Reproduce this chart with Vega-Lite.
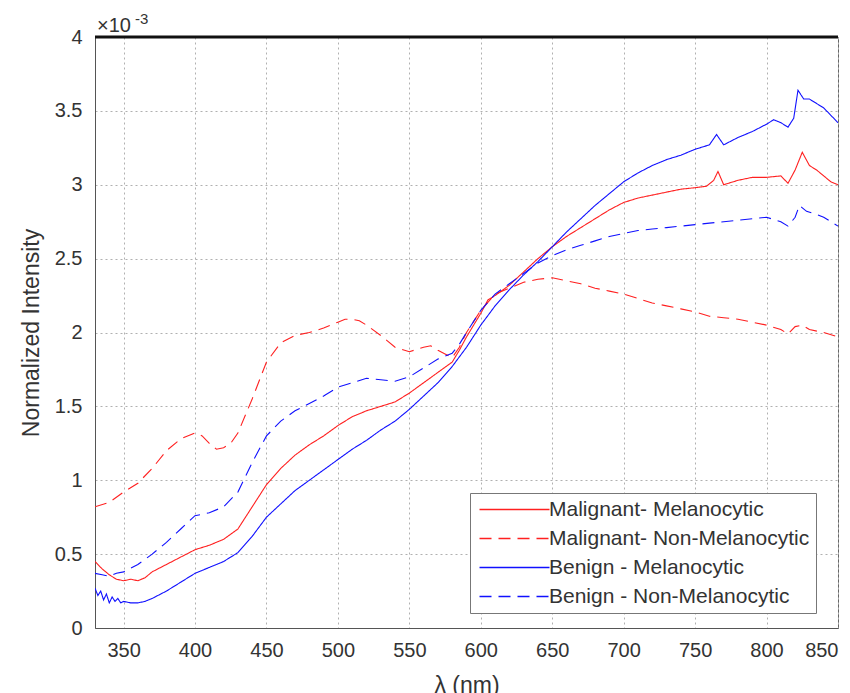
{
  "$schema": "https://vega.github.io/schema/vega-lite/v6.json",
  "width": 743,
  "height": 591,
  "autosize": {"type": "none"},
  "padding": {"left": 95, "top": 37, "right": 12, "bottom": 65},
  "background": "white",
  "config": {
    "font": "Liberation Sans",
    "view": {"stroke": "#666", "strokeWidth": 1},
    "axis": {"labelFont": "Liberation Sans", "titleFont": "Liberation Sans", "labelColor": "#333", "titleColor": "#333", "labelFontSize": 20, "titleFontSize": 23, "titleFontWeight": "normal", "gridDash": [2, 3], "gridColor": "#b0b0b0", "gridWidth": 1, "domainColor": "#555", "ticks": false},
    "legend": {"orient": "none", "legendX": 375, "legendY": 456, "direction": "vertical", "symbolType": "M-5,0H5", "symbolSize": 196, "symbolStrokeWidth": 1.3, "symbolOffset": 28, "labelFontSize": 21, "labelFont": "Liberation Sans", "labelColor": "#333", "labelOffset": 24, "rowPadding": 7, "padding": 6, "strokeColor": "#777", "fillColor": "white", "labelLimit": 400}
  },
  "layer": [
    {
      "data": {"values": [
        {"s":"MM","w":330,"v":0.45},{"s":"MM","w":335,"v":0.40},{"s":"MM","w":340,"v":0.36},{"s":"MM","w":345,"v":0.33},{"s":"MM","w":350,"v":0.32},{"s":"MM","w":355,"v":0.33},{"s":"MM","w":360,"v":0.32},{"s":"MM","w":365,"v":0.34},{"s":"MM","w":370,"v":0.38},{"s":"MM","w":380,"v":0.43},{"s":"MM","w":390,"v":0.48},{"s":"MM","w":400,"v":0.53},{"s":"MM","w":410,"v":0.56},{"s":"MM","w":420,"v":0.60},{"s":"MM","w":430,"v":0.67},{"s":"MM","w":440,"v":0.82},{"s":"MM","w":450,"v":0.97},{"s":"MM","w":460,"v":1.08},{"s":"MM","w":470,"v":1.17},{"s":"MM","w":480,"v":1.24},{"s":"MM","w":490,"v":1.30},{"s":"MM","w":500,"v":1.37},{"s":"MM","w":510,"v":1.43},{"s":"MM","w":520,"v":1.47},{"s":"MM","w":530,"v":1.50},{"s":"MM","w":540,"v":1.53},{"s":"MM","w":550,"v":1.59},{"s":"MM","w":560,"v":1.66},{"s":"MM","w":570,"v":1.73},{"s":"MM","w":580,"v":1.80},{"s":"MM","w":585,"v":1.88},{"s":"MM","w":590,"v":1.97},{"s":"MM","w":595,"v":2.05},{"s":"MM","w":600,"v":2.13},{"s":"MM","w":605,"v":2.22},{"s":"MM","w":610,"v":2.25},{"s":"MM","w":620,"v":2.32},{"s":"MM","w":630,"v":2.41},{"s":"MM","w":640,"v":2.50},{"s":"MM","w":650,"v":2.58},{"s":"MM","w":660,"v":2.65},{"s":"MM","w":670,"v":2.71},{"s":"MM","w":680,"v":2.77},{"s":"MM","w":690,"v":2.83},{"s":"MM","w":700,"v":2.88},{"s":"MM","w":710,"v":2.91},{"s":"MM","w":720,"v":2.93},{"s":"MM","w":730,"v":2.95},{"s":"MM","w":740,"v":2.97},{"s":"MM","w":750,"v":2.98},{"s":"MM","w":758,"v":2.99},{"s":"MM","w":763,"v":3.03},{"s":"MM","w":766,"v":3.09},{"s":"MM","w":770,"v":3.00},{"s":"MM","w":780,"v":3.03},{"s":"MM","w":790,"v":3.05},{"s":"MM","w":800,"v":3.05},{"s":"MM","w":810,"v":3.06},{"s":"MM","w":815,"v":3.01},{"s":"MM","w":820,"v":3.10},{"s":"MM","w":825,"v":3.22},{"s":"MM","w":830,"v":3.13},{"s":"MM","w":835,"v":3.10},{"s":"MM","w":840,"v":3.06},{"s":"MM","w":845,"v":3.02},{"s":"MM","w":850,"v":3.00},
        {"s":"MN","w":330,"v":0.82},{"s":"MN","w":340,"v":0.85},{"s":"MN","w":350,"v":0.92},{"s":"MN","w":360,"v":0.98},{"s":"MN","w":370,"v":1.08},{"s":"MN","w":380,"v":1.20},{"s":"MN","w":390,"v":1.28},{"s":"MN","w":400,"v":1.32},{"s":"MN","w":405,"v":1.30},{"s":"MN","w":410,"v":1.25},{"s":"MN","w":415,"v":1.21},{"s":"MN","w":420,"v":1.22},{"s":"MN","w":425,"v":1.25},{"s":"MN","w":430,"v":1.32},{"s":"MN","w":440,"v":1.55},{"s":"MN","w":450,"v":1.80},{"s":"MN","w":460,"v":1.93},{"s":"MN","w":470,"v":1.98},{"s":"MN","w":480,"v":2.00},{"s":"MN","w":490,"v":2.03},{"s":"MN","w":500,"v":2.07},{"s":"MN","w":505,"v":2.09},{"s":"MN","w":510,"v":2.09},{"s":"MN","w":515,"v":2.08},{"s":"MN","w":520,"v":2.05},{"s":"MN","w":530,"v":1.98},{"s":"MN","w":540,"v":1.90},{"s":"MN","w":550,"v":1.87},{"s":"MN","w":560,"v":1.90},{"s":"MN","w":565,"v":1.91},{"s":"MN","w":570,"v":1.88},{"s":"MN","w":580,"v":1.83},{"s":"MN","w":585,"v":1.90},{"s":"MN","w":590,"v":2.00},{"s":"MN","w":600,"v":2.15},{"s":"MN","w":610,"v":2.26},{"s":"MN","w":620,"v":2.30},{"s":"MN","w":630,"v":2.34},{"s":"MN","w":640,"v":2.36},{"s":"MN","w":650,"v":2.37},{"s":"MN","w":660,"v":2.35},{"s":"MN","w":670,"v":2.33},{"s":"MN","w":680,"v":2.30},{"s":"MN","w":690,"v":2.28},{"s":"MN","w":700,"v":2.26},{"s":"MN","w":710,"v":2.23},{"s":"MN","w":720,"v":2.20},{"s":"MN","w":730,"v":2.18},{"s":"MN","w":740,"v":2.16},{"s":"MN","w":750,"v":2.14},{"s":"MN","w":760,"v":2.11},{"s":"MN","w":770,"v":2.10},{"s":"MN","w":780,"v":2.09},{"s":"MN","w":790,"v":2.07},{"s":"MN","w":800,"v":2.05},{"s":"MN","w":810,"v":2.02},{"s":"MN","w":815,"v":1.99},{"s":"MN","w":820,"v":2.04},{"s":"MN","w":825,"v":2.05},{"s":"MN","w":830,"v":2.02},{"s":"MN","w":840,"v":2.00},{"s":"MN","w":850,"v":1.97},
        {"s":"BM","w":330,"v":0.27},{"s":"BM","w":332,"v":0.22},{"s":"BM","w":334,"v":0.25},{"s":"BM","w":336,"v":0.19},{"s":"BM","w":338,"v":0.23},{"s":"BM","w":340,"v":0.17},{"s":"BM","w":342,"v":0.21},{"s":"BM","w":344,"v":0.18},{"s":"BM","w":346,"v":0.20},{"s":"BM","w":348,"v":0.17},{"s":"BM","w":350,"v":0.18},{"s":"BM","w":355,"v":0.17},{"s":"BM","w":360,"v":0.17},{"s":"BM","w":365,"v":0.18},{"s":"BM","w":370,"v":0.20},{"s":"BM","w":380,"v":0.25},{"s":"BM","w":390,"v":0.31},{"s":"BM","w":400,"v":0.37},{"s":"BM","w":410,"v":0.41},{"s":"BM","w":420,"v":0.45},{"s":"BM","w":430,"v":0.51},{"s":"BM","w":440,"v":0.62},{"s":"BM","w":450,"v":0.75},{"s":"BM","w":460,"v":0.84},{"s":"BM","w":470,"v":0.93},{"s":"BM","w":480,"v":1.00},{"s":"BM","w":490,"v":1.07},{"s":"BM","w":500,"v":1.14},{"s":"BM","w":510,"v":1.21},{"s":"BM","w":520,"v":1.27},{"s":"BM","w":530,"v":1.34},{"s":"BM","w":540,"v":1.40},{"s":"BM","w":550,"v":1.48},{"s":"BM","w":560,"v":1.57},{"s":"BM","w":570,"v":1.66},{"s":"BM","w":580,"v":1.77},{"s":"BM","w":590,"v":1.90},{"s":"BM","w":600,"v":2.05},{"s":"BM","w":610,"v":2.18},{"s":"BM","w":620,"v":2.29},{"s":"BM","w":630,"v":2.39},{"s":"BM","w":640,"v":2.48},{"s":"BM","w":650,"v":2.58},{"s":"BM","w":660,"v":2.68},{"s":"BM","w":670,"v":2.77},{"s":"BM","w":680,"v":2.86},{"s":"BM","w":690,"v":2.94},{"s":"BM","w":700,"v":3.02},{"s":"BM","w":710,"v":3.08},{"s":"BM","w":720,"v":3.13},{"s":"BM","w":730,"v":3.17},{"s":"BM","w":740,"v":3.20},{"s":"BM","w":750,"v":3.24},{"s":"BM","w":760,"v":3.27},{"s":"BM","w":765,"v":3.34},{"s":"BM","w":770,"v":3.27},{"s":"BM","w":780,"v":3.32},{"s":"BM","w":790,"v":3.36},{"s":"BM","w":800,"v":3.41},{"s":"BM","w":805,"v":3.44},{"s":"BM","w":810,"v":3.42},{"s":"BM","w":815,"v":3.39},{"s":"BM","w":819,"v":3.45},{"s":"BM","w":822,"v":3.64},{"s":"BM","w":826,"v":3.58},{"s":"BM","w":830,"v":3.58},{"s":"BM","w":835,"v":3.55},{"s":"BM","w":840,"v":3.52},{"s":"BM","w":845,"v":3.47},{"s":"BM","w":850,"v":3.42},
        {"s":"BN","w":330,"v":0.37},{"s":"BN","w":335,"v":0.36},{"s":"BN","w":340,"v":0.35},{"s":"BN","w":345,"v":0.37},{"s":"BN","w":350,"v":0.38},{"s":"BN","w":360,"v":0.43},{"s":"BN","w":370,"v":0.50},{"s":"BN","w":380,"v":0.58},{"s":"BN","w":390,"v":0.67},{"s":"BN","w":400,"v":0.76},{"s":"BN","w":410,"v":0.78},{"s":"BN","w":420,"v":0.82},{"s":"BN","w":430,"v":0.92},{"s":"BN","w":440,"v":1.12},{"s":"BN","w":450,"v":1.30},{"s":"BN","w":460,"v":1.40},{"s":"BN","w":470,"v":1.47},{"s":"BN","w":480,"v":1.52},{"s":"BN","w":490,"v":1.57},{"s":"BN","w":500,"v":1.63},{"s":"BN","w":510,"v":1.66},{"s":"BN","w":520,"v":1.69},{"s":"BN","w":530,"v":1.68},{"s":"BN","w":540,"v":1.67},{"s":"BN","w":550,"v":1.70},{"s":"BN","w":560,"v":1.76},{"s":"BN","w":570,"v":1.82},{"s":"BN","w":580,"v":1.86},{"s":"BN","w":585,"v":1.92},{"s":"BN","w":590,"v":2.00},{"s":"BN","w":600,"v":2.15},{"s":"BN","w":610,"v":2.26},{"s":"BN","w":620,"v":2.33},{"s":"BN","w":630,"v":2.40},{"s":"BN","w":640,"v":2.47},{"s":"BN","w":650,"v":2.52},{"s":"BN","w":660,"v":2.56},{"s":"BN","w":670,"v":2.59},{"s":"BN","w":680,"v":2.62},{"s":"BN","w":690,"v":2.65},{"s":"BN","w":700,"v":2.67},{"s":"BN","w":710,"v":2.69},{"s":"BN","w":720,"v":2.70},{"s":"BN","w":730,"v":2.71},{"s":"BN","w":740,"v":2.72},{"s":"BN","w":750,"v":2.73},{"s":"BN","w":760,"v":2.74},{"s":"BN","w":770,"v":2.75},{"s":"BN","w":780,"v":2.76},{"s":"BN","w":790,"v":2.77},{"s":"BN","w":800,"v":2.78},{"s":"BN","w":810,"v":2.75},{"s":"BN","w":815,"v":2.72},{"s":"BN","w":820,"v":2.78},{"s":"BN","w":823,"v":2.86},{"s":"BN","w":828,"v":2.82},{"s":"BN","w":835,"v":2.80},{"s":"BN","w":840,"v":2.78},{"s":"BN","w":845,"v":2.75},{"s":"BN","w":850,"v":2.72}
      ]},
      "mark": {"type": "line", "strokeWidth": 1.1, "clip": true},
      "encoding": {
        "x": {"field": "w", "type": "quantitative", "scale": {"domain": [330, 850], "nice": false, "zero": false}, "axis": {"values": [350, 400, 450, 500, 550, 600, 650, 700, 750, 800, 850], "title": "λ (nm)", "labelPadding": 12, "titlePadding": 14, "grid": true}},
        "y": {"field": "v", "type": "quantitative", "scale": {"domain": [0, 4], "nice": false}, "axis": {"values": [0, 0.5, 1, 1.5, 2, 2.5, 3, 3.5, 4], "format": ".1~f", "title": "Normalized Intensity", "labelPadding": 13, "titlePadding": 11, "grid": true}},
        "color": {"field": "s", "type": "nominal", "scale": {"domain": ["MM", "MN", "BM", "BN"], "range": ["#ff2020", "#ff2020", "#1010ff", "#1010ff"]},
          "legend": {"title": null, "labelExpr": "{'MM': 'Malignant- Melanocytic', 'MN': 'Malignant- Non-Melanocytic', 'BM': 'Benign - Melanocytic', 'BN': 'Benign - Non-Melanocytic'}[datum.label]"}},
        "strokeDash": {"field": "s", "type": "nominal", "scale": {"domain": ["MM", "MN", "BM", "BN"], "range": [[1, 0], [12, 7], [1, 0], [12, 7]]},
          "legend": {"title": null, "labelExpr": "{'MM': 'Malignant- Melanocytic', 'MN': 'Malignant- Non-Melanocytic', 'BM': 'Benign - Melanocytic', 'BN': 'Benign - Non-Melanocytic'}[datum.label]"}}
      }
    },
    {
      "data": {"values": [{"top": 4}]},
      "mark": {"type": "rule", "color": "#111", "strokeWidth": 3},
      "encoding": {"y": {"field": "top", "type": "quantitative"}}
    },
    {
      "data": {"values": [{"w": 330, "v": 4, "t": "×10"}]},
      "mark": {"type": "text", "align": "left", "baseline": "alphabetic", "dx": 2, "dy": -5, "fontSize": 20, "font": "Liberation Sans", "color": "#333"},
      "encoding": {"x": {"field": "w", "type": "quantitative"}, "y": {"field": "v", "type": "quantitative"}, "text": {"field": "t"}}
    },
    {
      "data": {"values": [{"w": 330, "v": 4, "t": "-3"}]},
      "mark": {"type": "text", "align": "left", "baseline": "alphabetic", "dx": 40, "dy": -13, "fontSize": 15, "font": "Liberation Sans", "color": "#333"},
      "encoding": {"x": {"field": "w", "type": "quantitative"}, "y": {"field": "v", "type": "quantitative"}, "text": {"field": "t"}}
    }
  ]
}
